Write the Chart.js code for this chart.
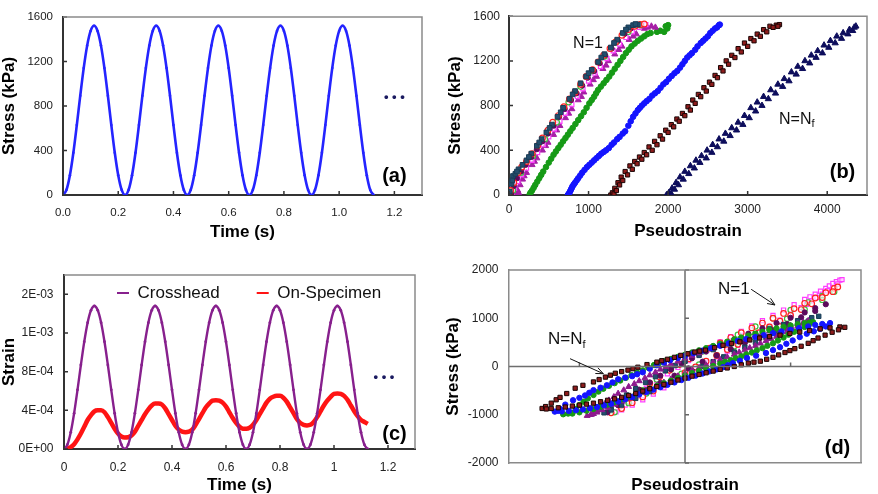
<!DOCTYPE html>
<html>
<head>
<meta charset="utf-8">
<script src="https://cdn.jsdelivr.net/npm/chart.js@4.4.0/dist/chart.umd.min.js"></script>
<style>
  html, body { margin: 0; padding: 0; background: #fff; }
  #wrap { position: relative; width: 878px; height: 494px; overflow: hidden; }
  .panel { position: absolute; }
  canvas { display: block; }
</style>
</head>
<body>
<div id="wrap">
  <div class="panel" style="left:0;top:0"><canvas id="ca" width="440" height="247"></canvas></div>
  <div class="panel" style="left:440px;top:0"><canvas id="cb" width="438" height="247"></canvas></div>
  <div class="panel" style="left:0;top:247px"><canvas id="cc" width="440" height="247"></canvas></div>
  <div class="panel" style="left:440px;top:247px"><canvas id="cd" width="438" height="247"></canvas></div>
</div>
<script>
// ---- (a) / (c): time histories, one sample every 12.5 ms ----
const timeS = [0, 0.0125, 0.025, 0.0375, 0.05, 0.0625, 0.075, 0.0875, 0.1, 0.1125, 0.125, 0.1375, 0.15, 0.1625, 0.175, 0.1875, 0.2, 0.2125, 0.225,
  0.2375, 0.25, 0.2625, 0.275, 0.2875, 0.3, 0.3125, 0.325, 0.3375, 0.35, 0.3625, 0.375, 0.3875, 0.4, 0.4125, 0.425, 0.4375, 0.45,
  0.4625, 0.475, 0.4875, 0.5, 0.5125, 0.525, 0.5375, 0.55, 0.5625, 0.575, 0.5875, 0.6, 0.6125, 0.625, 0.6375, 0.65, 0.6625, 0.675,
  0.6875, 0.7, 0.7125, 0.725, 0.7375, 0.75, 0.7625, 0.775, 0.7875, 0.8, 0.8125, 0.825, 0.8375, 0.85, 0.8625, 0.875, 0.8875, 0.9,
  0.9125, 0.925, 0.9375, 0.95, 0.9625, 0.975, 0.9875, 1, 1.0125, 1.025, 1.0375, 1.05, 1.0625, 1.075, 1.0875, 1.1, 1.1125, 1.125];

const aStress = [0, 46, 178, 380, 628, 892, 1140, 1342, 1474, 1520, 1474, 1342, 1140, 892, 628, 380, 178, 46, 0,
  46, 178, 380, 628, 892, 1140, 1342, 1474, 1520, 1474, 1342, 1140, 892, 628, 380, 178, 46, 0,
  46, 178, 380, 628, 892, 1140, 1342, 1474, 1520, 1474, 1342, 1140, 892, 628, 380, 178, 46, 0,
  46, 178, 380, 628, 892, 1140, 1342, 1474, 1520, 1474, 1342, 1140, 892, 628, 380, 178, 46, 0,
  46, 178, 380, 628, 892, 1140, 1342, 1474, 1520, 1474, 1342, 1140, 892, 628, 380, 178, 46, 0];

const cCrosshead = [0, 0.000045, 0.000173, 0.00037, 0.000612, 0.000869, 0.00111, 0.001307, 0.001435, 0.00148, 0.001435, 0.001307, 0.00111, 0.000869, 0.000612, 0.00037, 0.000173, 0.000045, 0,
  0.000045, 0.000173, 0.00037, 0.000612, 0.000869, 0.00111, 0.001307, 0.001435, 0.00148, 0.001435, 0.001307, 0.00111, 0.000869, 0.000612, 0.00037, 0.000173, 0.000045, 0,
  0.000045, 0.000173, 0.00037, 0.000612, 0.000869, 0.00111, 0.001307, 0.001435, 0.00148, 0.001435, 0.001307, 0.00111, 0.000869, 0.000612, 0.00037, 0.000173, 0.000045, 0,
  0.000045, 0.000173, 0.00037, 0.000612, 0.000869, 0.00111, 0.001307, 0.001435, 0.00148, 0.001435, 0.001307, 0.00111, 0.000869, 0.000612, 0.00037, 0.000173, 0.000045, 0,
  0.000045, 0.000173, 0.00037, 0.000612, 0.000869, 0.00111, 0.001307, 0.001435, 0.00148, 0.001435, 0.001307, 0.00111, 0.000869, 0.000612, 0.00037, 0.000173, 0.000045, 0];

const cOnSpecimen = [0, 0.000005, 0.00002, 0.00005, 0.0001, 0.00016, 0.00023, 0.0003, 0.00035, 0.00039, 0.0004, 0.0004, 0.00038, 0.00033, 0.00027, 0.00021, 0.00016, 0.00013, 0.00012,
  0.000122, 0.00014, 0.00018, 0.00024, 0.0003, 0.00036, 0.00041, 0.00045, 0.00047, 0.00047, 0.00046, 0.00042, 0.00036, 0.0003, 0.00024, 0.0002, 0.00018, 0.000174,
  0.00018, 0.0002, 0.00025, 0.00031, 0.00037, 0.00043, 0.00047, 0.0005, 0.000505, 0.0005, 0.00048, 0.00044, 0.00038, 0.00032, 0.00027, 0.00023, 0.00021, 0.000209,
  0.00022, 0.00025, 0.0003, 0.00036, 0.00042, 0.00048, 0.00052, 0.00054, 0.00055, 0.00055, 0.00053, 0.00049, 0.00043, 0.00037, 0.00031, 0.00027, 0.00025, 0.000244,
  0.00025, 0.00028, 0.00033, 0.00039, 0.00045, 0.0005, 0.00054, 0.00057, 0.000574, 0.00057, 0.00055, 0.00051, 0.00045, 0.00039, 0.00034, 0.0003, 0.00028, 0.00026];

// tick values / labels
const aTimeTicks = [0, 0.2, 0.4, 0.6, 0.8, 1.0, 1.2];
const aTimeLabels = ['0.0', '0.2', '0.4', '0.6', '0.8', '1.0', '1.2'];
const cTimeLabels = ['0', '0.2', '0.4', '0.6', '0.8', '1', '1.2'];
const stressTicks = [0, 400, 800, 1200, 1600];
const bStrainTicks = [0, 1000, 2000, 3000, 4000];
const cStrainTicks = [0, 0.0004, 0.0008, 0.0012, 0.0016];
const cStrainLabels = ['0E+00', '4E-04', '8E-04', '1E-03', '2E-03'];
const dStressTicks = [-2000, -1000, 0, 1000, 2000];
const dStrainTicks = [-1500, 0, 1500];

// ---- (b): loading branches, [pseudostrain, stress kPa] ----
const bSlate = [[10,30],[30,100],[50,170],[80,190],[120,230],[170,270],[220,310],[280,370],[350,440],[410,500],[470,560],[540,630],[610,700],[680,780],[760,860],[830,930],[900,1000],[970,1060],[1040,1120],[1120,1190],[1200,1260],[1280,1320],[1360,1390],[1430,1450],[1500,1500],[1560,1520],[1620,1525],
  [40,130],[100,210],[250,340],[380,470],[510,600],[650,740],[800,900],[1000,1090],[1160,1230],[1320,1360],[1470,1480],[1590,1530]];
const bRedOpen = [[0,0],[20,40],[60,110],[110,200],[160,250],[220,300],[290,370],[360,440],[420,510],[490,580],[550,650],[620,710],[690,790],[760,860],[830,920],[900,990],[970,1060],[1050,1120],[1120,1190],[1190,1250],[1270,1310],[1340,1370],[1420,1430],[1500,1480],[1580,1510],[1650,1525],[1700,1530]];
const bDarkPurple = [[30,10],[60,80],[100,150],[150,210],[210,270],[280,340],[350,410],[420,480],[490,550],[560,620],[630,700],[700,770],[780,850],[850,910],[920,980],[990,1050],[1070,1110],[1140,1180],[1210,1250],[1290,1310],[1370,1380],[1450,1440],[1530,1490],[1600,1520]];
const bLimeOpen = [[50,40],[150,200],[300,350],[450,500],[600,650],[750,830],[900,970],[1050,1110],[1200,1240],[1350,1370],[1500,1460],[1650,1520]];
const bMagentaOpen = [[40,0],[70,60],[110,120],[160,180],[220,240],[290,310],[360,380],[430,450],[500,520],[570,590],[640,660],[710,730],[790,810],[860,880],[930,950],[1000,1020],[1080,1090],[1150,1150],[1230,1220],[1310,1290],[1390,1350],[1470,1410],[1550,1460],[1640,1500],[1720,1525]];
const bPurpleTri = [[90,0],[110,40],[140,90],[170,140],[220,200],[290,270],[350,330],[420,400],[490,470],[560,540],[640,620],[710,690],[790,770],[870,850],[940,920],[1020,990],[1100,1060],[1180,1130],[1250,1200],[1330,1260],[1420,1330],[1510,1390],[1600,1440],[1700,1490],[1790,1510],[1840,1500],
  [120,20],[190,170],[320,300],[460,440],[600,580],[750,730],[910,880],[1060,1030],[1220,1160],[1380,1300],[1560,1420],[1740,1500]];
const bGreen = [[260,5],[290,40],[330,90],[380,150],[430,210],[500,290],[560,360],[620,420],[680,480],[740,540],[800,600],[870,670],[940,740],[1010,820],[1070,880],[1120,940],[1190,1000],[1260,1060],[1330,1130],[1400,1200],[1470,1270],[1540,1330],[1620,1380],[1700,1420],[1780,1450],[1860,1460],[1950,1460],[1990,1490],[2000,1520],
  [270,20],[310,65],[355,120],[405,180],[465,250],[530,325],[590,390],[650,450],[710,510],[770,570],[835,635],[905,705],[975,780],[1040,850],[1095,910],[1155,970],[1225,1030],[1295,1095],[1365,1165],[1435,1235],[1505,1300],[1580,1355],[1660,1400],[1740,1440],[1900,1470],[1970,1510]];
const bBlue = [[740,0],[760,20],[780,50],[800,80],[830,110],[870,150],[920,200],[980,250],[1040,290],[1100,330],[1160,370],[1220,400],[1290,450],[1360,500],[1430,550],[1500,620],[1560,700],[1620,760],[1670,800],[1730,840],[1800,890],[1870,930],[1940,990],[2010,1040],[2080,1090],[2150,1140],[2210,1200],[2270,1250],[2340,1300],[2410,1360],[2470,1400],[2530,1450],[2590,1490],[2640,1520],
  [750,10],[770,35],[790,65],[815,95],[850,130],[895,175],[950,225],[1010,270],[1070,310],[1130,350],[1190,385],[1255,420],[1320,470],[1390,520],[1460,570],[1530,660],[1590,730],[1645,780],[1700,820],[1765,860],[1835,910],[1905,960],[1975,1010],[2045,1065],[2115,1110],[2180,1170],[2240,1230],[2300,1270],[2370,1330],[2440,1380],[2500,1420],[2560,1470],[2615,1500],[2650,1525]];
const bDarkRed = [[1280,0],[1300,20],[1330,60],[1370,110],[1410,160],[1460,210],[1520,260],[1580,300],[1640,340],[1700,380],[1760,430],[1830,480],[1900,530],[1970,580],[2040,630],[2110,680],[2180,730],[2250,790],[2310,850],[2380,900],[2450,960],[2520,1010],[2590,1070],[2660,1140],[2730,1200],[2800,1250],[2880,1310],[2960,1360],[3040,1400],[3120,1440],[3200,1480],[3280,1510],[3360,1520],[3400,1525],
  [1320,10],[1350,40],[1390,90],[1430,130],[1490,180],[1550,230],[1610,280],[1670,320],[1730,360],[1800,400],[1860,450],[1930,500],[2000,560],[2070,610],[2140,660],[2210,710],[2280,760],[2340,820],[2410,880],[2480,930],[2550,990],[2620,1050],[2690,1110],[2760,1170],[2840,1230],[2920,1280],[3000,1330],[3080,1380],[3160,1420],[3240,1460],[3320,1500],[3380,1510]];
const bNavyTri = [[1980,0],[2010,20],[2050,60],[2100,110],[2150,160],[2210,210],[2280,260],[2350,310],[2420,350],[2490,400],[2560,450],[2640,500],[2720,550],[2800,600],[2880,650],[2960,710],[3040,780],[3120,830],[3200,880],[3290,940],[3380,990],[3460,1040],[3550,1100],[3630,1150],[3720,1200],[3800,1250],[3880,1290],[3960,1340],[4040,1380],[4120,1420],[4200,1450],[4280,1480],[4340,1500],[4360,1510],
  [2040,10],[2080,50],[2130,90],[2190,140],[2260,190],[2330,240],[2400,290],[2480,330],[2550,380],[2620,430],[2700,480],[2780,530],[2860,580],[2940,630],[3020,690],[3100,750],[3180,800],[3260,860],[3350,910],[3440,970],[3520,1020],[3610,1080],[3690,1130],[3780,1180],[3860,1230],[3940,1270],[4020,1320],[4100,1360],[4180,1400],[4260,1440],[4320,1470]];

// ---- (d): hysteresis loops, [pseudostrain, stress kPa] ----
const dNf = [[-2030,-870],[-1980,-830],[-1900,-760],[-1830,-690],[-1775,-640],[-1680,-560],[-1560,-450],[-1450,-390],[-1300,-320],[-1220,-270],[-1130,-220],[-1060,-180],[-990,-140],[-900,-105],[-810,-75],[-740,-45],[-670,-15],[-540,40],[-400,90],[-330,120],[-250,150],[-150,190],[-60,230],[40,265],[140,300],[210,320],[290,340],[420,390],[540,440],[660,475],[780,510],[920,550],[1060,590],[1200,620],[1350,650],[1490,685],[1630,715],[1770,745],[1920,780],[2060,800],[2200,820],[2270,812],
  [2180,760],[2090,710],[1990,650],[1890,590],[1820,535],[1750,480],[1650,420],[1560,370],[1490,330],[1420,290],[1330,240],[1250,190],[1160,150],[1070,110],[980,90],[900,70],[800,35],[700,0],[600,-30],[500,-60],[400,-95],[300,-130],[200,-165],[100,-200],[0,-240],[-100,-280],[-200,-325],[-300,-370],[-400,-415],[-500,-460],[-600,-510],[-700,-560],[-800,-600],[-900,-640],[-1000,-670],[-1100,-700],[-1200,-730],[-1300,-760],[-1400,-780],[-1500,-800],[-1600,-820],[-1700,-840],[-1800,-855],[-1900,-870],[-1970,-880]];
const dBlue = [[-1850,-935],[-1800,-920],[-1775,-880],[-1700,-790],[-1590,-700],[-1500,-650],[-1420,-600],[-1360,-545],[-1300,-490],[-1200,-440],[-1110,-390],[-1030,-330],[-950,-265],[-850,-230],[-750,-200],[-680,-160],[-600,-120],[-500,-45],[-400,27],[-300,80],[-213,130],[-100,180],[0,220],[120,275],[250,330],[370,380],[500,430],[620,480],[750,530],[870,570],[1000,610],[1120,650],[1250,690],[1370,725],[1500,760],[1620,795],[1750,830],[1850,860],[1950,880],[2060,900],
  [2000,830],[1920,780],[1830,730],[1730,680],[1630,610],[1530,540],[1440,470],[1350,400],[1250,340],[1150,280],[1010,225],[880,175],[780,120],[680,70],[610,25],[540,-15],[450,-60],[350,-100],[250,-145],[150,-190],[50,-235],[-50,-280],[-150,-330],[-250,-380],[-350,-430],[-450,-480],[-550,-530],[-650,-580],[-750,-630],[-850,-680],[-950,-725],[-1050,-770],[-1150,-805],[-1250,-840],[-1350,-865],[-1450,-890],[-1550,-905],[-1650,-920],[-1750,-930]];
const dGreen = [[-1730,-990],[-1660,-975],[-1600,-960],[-1550,-880],[-1500,-800],[-1440,-730],[-1380,-660],[-1300,-590],[-1230,-520],[-1160,-460],[-1080,-400],[-1000,-345],[-920,-290],[-840,-235],[-760,-180],[-680,-130],[-600,-80],[-520,-25],[-440,30],[-370,70],[-300,110],[-200,155],[-100,200],[0,245],[100,290],[200,335],[300,380],[400,425],[500,470],[600,515],[700,560],[800,600],[900,640],[1000,680],[1100,720],[1200,755],[1300,790],[1400,820],[1500,850],[1600,875],[1700,900],[1770,912],[1820,917],
  [1760,870],[1700,820],[1620,770],[1550,720],[1470,660],[1400,600],[1320,540],[1250,480],[1170,430],[1100,380],[1020,335],[950,290],[870,250],[800,210],[720,170],[650,130],[570,95],[500,60],[400,10],[300,-40],[200,-90],[100,-140],[0,-190],[-100,-240],[-200,-295],[-300,-350],[-400,-405],[-500,-460],[-600,-515],[-700,-570],[-800,-625],[-900,-680],[-1000,-735],[-1100,-790],[-1200,-835],[-1300,-880],[-1400,-915],[-1500,-950],[-1600,-975]];
const dPurpleTri = [[-1390,-1020],[-1340,-1000],[-1300,-980],[-1250,-915],[-1200,-850],[-1140,-775],[-1080,-700],[-1010,-630],[-950,-560],[-870,-490],[-800,-420],[-720,-360],[-650,-300],[-570,-240],[-500,-180],[-420,-120],[-350,-60],[-270,-5],[-200,50],[-100,110],[0,170],[100,225],[200,280],[300,330],[400,380],[500,430],[600,480],[700,525],[800,570],[900,610],[1000,650],[1100,690],[1200,730],[1300,770],[1400,810],[1500,845],[1600,880],[1680,915],[1750,950],
  [1680,890],[1600,830],[1520,775],[1450,720],[1370,670],[1300,620],[1220,575],[1150,530],[1070,480],[1000,430],[920,385],[850,340],[770,295],[700,250],[600,195],[500,140],[400,85],[300,30],[200,-25],[100,-80],[0,-140],[-100,-200],[-200,-265],[-300,-330],[-400,-395],[-500,-460],[-600,-525],[-700,-590],[-800,-655],[-900,-720],[-1000,-785],[-1100,-850],[-1180,-900],[-1250,-950],[-1320,-990]];
const dSlate = [[-1150,-960],[-1050,-850],[-950,-720],[-830,-590],[-700,-460],[-560,-330],[-420,-210],[-280,-90],[-140,20],[0,110],[200,230],[400,350],[600,470],[800,580],[1000,680],[1200,780],[1400,870],[1600,950],[1800,1010],[1900,1040],
  [1750,940],[1600,860],[1450,780],[1300,690],[1150,600],[1000,500],[850,400],[700,300],[550,200],[400,100],[250,0],[100,-100],[-100,-240],[-300,-380],[-500,-520],[-700,-660],[-900,-800],[-1050,-900]];
const dDarkPurple = [[-1100,-950],[-950,-800],[-800,-640],[-650,-480],[-500,-330],[-350,-190],[-200,-60],[-50,60],[100,170],[300,310],[500,440],[700,560],[900,680],[1100,790],[1300,900],[1500,1010],[1700,1120],[1850,1210],[2000,1290],
  [1850,1150],[1650,1020],[1450,880],[1250,750],[1050,620],[850,490],[650,360],[450,230],[250,100],[50,-40],[-150,-190],[-350,-340],[-550,-490],[-750,-640],[-950,-800]];
const dRedOpen = [[-1050,-960],[-920,-820],[-780,-660],[-640,-500],[-500,-350],[-360,-210],[-220,-80],[-80,40],[60,160],[200,270],[350,380],[500,490],[650,600],[800,700],[950,800],[1100,900],[1250,1000],[1400,1100],[1550,1200],[1700,1310],[1850,1420],[2000,1530],[2120,1620],[2170,1650],
  [2100,1550],[1950,1430],[1800,1300],[1650,1180],[1500,1060],[1350,940],[1200,820],[1050,700],[900,580],[750,460],[600,350],[450,230],[300,110],[150,-10],[0,-130],[-150,-250],[-300,-380],[-450,-510],[-600,-630],[-750,-750],[-900,-870]];
const dLimeOpen = [[-1000,-950],[-800,-730],[-600,-490],[-400,-270],[-200,-60],[0,120],[250,310],[500,490],[750,660],[1000,830],[1250,1000],[1500,1170],[1750,1330],[1950,1460],[2120,1550],
  [1950,1380],[1700,1180],[1450,990],[1200,800],[950,610],[700,420],[450,230],[200,40],[-50,-150],[-300,-350],[-550,-560],[-800,-760]];
const dMagentaOpen = [[-980,-940],[-850,-800],[-700,-620],[-550,-450],[-400,-300],[-250,-150],[-100,-20],[50,120],[200,250],[350,380],[500,510],[650,620],[800,730],[950,840],[1100,950],[1250,1060],[1400,1170],[1550,1280],[1700,1390],[1775,1445],[1850,1500],[1925,1560],[2000,1620],[2050,1670],[2100,1720],[2150,1760],[2200,1790],[2230,1800],
  [2170,1710],[2100,1640],[2025,1570],[1950,1500],[1875,1430],[1800,1360],[1725,1290],[1650,1220],[1500,1090],[1350,960],[1200,830],[1050,700],[900,570],[750,440],[600,320],[450,200],[300,80],[150,-50],[0,-180],[-150,-310],[-300,-440],[-450,-570],[-600,-690],[-750,-800],[-900,-900]];

Chart.defaults.font.family = "'Liberation Sans', Arial, 'DejaVu Sans', sans-serif";
Chart.defaults.color = '#1a1a1a';
Chart.defaults.animation = false;

const titleFont = { size: 17, weight: 'bold', lineHeight: 1 };
const noteBold = 'bold 20px "Liberation Sans", Arial, sans-serif';
const noteText = (s) => s + 'px "Liberation Sans", Arial, sans-serif';

const pts = arr => arr.map(p => ({ x: p[0], y: p[1] }));
const series = (xs, ys) => xs.map((x, i) => ({ x, y: ys[i] }));
const fixedTicks = vals => scale => { scale.ticks = vals.map(v => ({ value: v })); };

// Excel-style frame: inward tick marks, light top/right edges, notes and arrows
const panelDeco = {
  id: 'panelDeco',
  afterLayout(chart, args, o) {
    const L = chart.legend;
    if (o.legendAt && L) {
      const h = L.height, w = L.width;
      L.left = o.legendAt.left; L.right = L.left + w;
      L.top = o.legendAt.top; L.bottom = L.top + h;
    }
  },
  afterDraw(chart, args, o) {
    const { ctx, chartArea: a } = chart;
    const sx = chart.scales.x, sy = chart.scales.y;
    ctx.save();
    let baseX = a.left, baseY = a.bottom;
    if (o.cross) {
      baseX = sx.getPixelForValue(0);
      baseY = sy.getPixelForValue(0);
      ctx.strokeStyle = o.cross; ctx.lineWidth = 1.5;
      ctx.beginPath();
      ctx.moveTo(baseX, a.top); ctx.lineTo(baseX, a.bottom);
      ctx.moveTo(a.left, baseY); ctx.lineTo(a.right, baseY);
      ctx.stroke();
    }
    ctx.strokeStyle = o.tickColor; ctx.lineWidth = 1.5;
    ctx.beginPath();
    sx.ticks.forEach(t => { const p = sx.getPixelForValue(t.value); ctx.moveTo(p, baseY); ctx.lineTo(p, baseY - 4); });
    sy.ticks.forEach(t => { const p = sy.getPixelForValue(t.value); ctx.moveTo(baseX, p); ctx.lineTo(baseX + 4, p); });
    ctx.stroke();

    ctx.strokeStyle = o.frame; ctx.lineWidth = 1.5;
    ctx.beginPath();
    ctx.moveTo(a.left, a.top); ctx.lineTo(a.right, a.top); ctx.lineTo(a.right, a.bottom);
    ctx.stroke();

    (o.arrows || []).forEach(ar => {
      const x1 = sx.getPixelForValue(ar.from[0]), y1 = sy.getPixelForValue(ar.from[1]);
      const x2 = sx.getPixelForValue(ar.to[0]), y2 = sy.getPixelForValue(ar.to[1]);
      const ang = Math.atan2(y2 - y1, x2 - x1);
      ctx.strokeStyle = '#111'; ctx.lineWidth = 1;
      ctx.beginPath();
      ctx.moveTo(x1, y1); ctx.lineTo(x2, y2);
      ctx.moveTo(x2 - 8 * Math.cos(ang - 0.4), y2 - 8 * Math.sin(ang - 0.4));
      ctx.lineTo(x2, y2);
      ctx.lineTo(x2 - 8 * Math.cos(ang + 0.4), y2 - 8 * Math.sin(ang + 0.4));
      ctx.stroke();
    });

    (o.notes || []).forEach(n => {
      const px = sx.getPixelForValue(n.x), py = sy.getPixelForValue(n.y);
      ctx.font = n.font; ctx.fillStyle = n.color || '#111';
      ctx.textAlign = n.align || 'center'; ctx.textBaseline = 'middle';
      ctx.fillText(n.text, px, py);
      if (n.sub) {
        const w = ctx.measureText(n.text).width;
        ctx.font = n.subFont; ctx.textAlign = 'left';
        ctx.fillText(n.sub, px + w, py + 5);
      }
    });
    ctx.restore();
  }
};

function axis(opts) {
  return {
    type: 'linear',
    min: opts.min, max: opts.max,
    afterBuildTicks: fixedTicks(opts.ticks),
    ticks: {
      display: opts.labels !== null,
      callback: (v, i) => opts.labels ? opts.labels[i] : String(v),
      padding: opts.pad, font: { size: opts.font || 12 }, color: '#222'
    },
    grid: { display: false, drawTicks: false },
    border: { color: opts.border || '#333', width: opts.borderWidth || 2 },
    title: { display: true, text: opts.title, color: '#000', font: titleFont, padding: opts.titlePad },
    afterFit: opts.fit
  };
}

const baseOpts = (padding) => ({
  responsive: false,
  devicePixelRatio: 1,
  layout: { padding },
  plugins: { legend: { display: false }, tooltip: { enabled: false } }
});

// (a) stress history
new Chart(document.getElementById('ca'), {
  type: 'line',
  data: { datasets: [{
    label: 'Stress', data: series(timeS, aStress),
    borderColor: '#2424ff', backgroundColor: '#2424ff', borderWidth: 2.6,
    pointRadius: 1.3, pointBorderWidth: 0, cubicInterpolationMode: 'monotone'
  }] },
  options: Object.assign(baseOpts({ left: 0, top: 14, right: 18, bottom: 0 }), {
    scales: {
      x: axis({ min: 0, max: 1.3, ticks: aTimeTicks, labels: aTimeLabels, pad: 11, font: 11.5,
        title: 'Time (s)', titlePad: { top: 0, bottom: 6.5 }, fit: s => { s.height = 52; } }),
      y: axis({ min: 0, max: 1600, ticks: stressTicks, pad: 10, font: 11.5,
        title: 'Stress (kPa)', titlePad: { top: 0.5, bottom: 0 }, fit: s => { s.width = 63; } })
    },
    plugins: {
      legend: { display: false }, tooltip: { enabled: false },
      panelDeco: { frame: '#8a8a8a', tickColor: '#333', notes: [
        { x: 1.2, y: 168, text: '(a)', font: noteBold, color: '#000' },
        { x: 1.2, y: 880, text: '• • •', font: 'bold 13px "Liberation Sans", Arial, sans-serif', color: '#1a1a60' }
      ] }
    }
  }),
  plugins: [panelDeco]
});

// (b) stress vs pseudostrain, loading branches
const mk = (label, data, style, bg, border, r, bw) => ({
  label, data: pts(data), showLine: false, pointStyle: style, pointRadius: r,
  backgroundColor: bg, borderColor: border, pointBorderWidth: bw
});
new Chart(document.getElementById('cb'), {
  type: 'scatter',
  data: { datasets: [
    mk('slate', bSlate, 'rect', '#234e6e', '#1a3c55', 3.3, 1),
    mk('red', bRedOpen, 'circle', 'rgba(255,255,255,0.6)', '#ff2020', 2.9, 1.2),
    mk('darkpurple', bDarkPurple, 'circle', '#5c0a5c', '#5c0a5c', 2.6, 1),
    mk('lime', bLimeOpen, 'circle', 'rgba(255,255,255,0.6)', '#3cc23c', 2.7, 1.2),
    mk('magenta', bMagentaOpen, 'rect', 'rgba(255,255,255,0.6)', '#ff3cff', 2.9, 1.2),
    mk('purple', bPurpleTri, 'triangle', '#a61ea6', '#a61ea6', 3.5, 1),
    mk('green', bGreen, 'circle', '#169a16', '#169a16', 2.8, 1),
    mk('blue', bBlue, 'circle', '#1414ff', '#1414ff', 2.8, 1),
    mk('darkred', bDarkRed, 'rect', '#8e1c1c', '#1a0505', 3, 1),
    mk('navy', bNavyTri, 'triangle', '#0d0d5c', '#0d0d5c', 3.6, 1)
  ] },
  options: Object.assign(baseOpts({ left: 0, top: 15, right: 11, bottom: 0 }), {
    scales: {
      x: axis({ min: 0, max: 4500, ticks: bStrainTicks, pad: 7, font: 12,
        title: 'Pseudostrain', titlePad: { top: 0, bottom: 7.5 }, fit: s => { s.height = 52; } }),
      y: axis({ min: 0, max: 1600, ticks: stressTicks, pad: 9, font: 12,
        title: 'Stress (kPa)', titlePad: { top: 6.5, bottom: 0 }, fit: s => { s.width = 69; } })
    },
    plugins: {
      legend: { display: false }, tooltip: { enabled: false },
      panelDeco: { frame: '#8a8a8a', tickColor: '#333', notes: [
        { x: 993, y: 1356, text: 'N=1', font: noteText(16), color: '#111' },
        { x: 3394, y: 676, text: 'N=N', sub: 'f', font: noteText(16), subFont: noteText(11), align: 'left', color: '#111' },
        { x: 4192, y: 204, text: '(b)', font: noteBold, color: '#000' }
      ] }
    }
  }),
  plugins: [panelDeco]
});

// (c) strain histories
new Chart(document.getElementById('cc'), {
  type: 'line',
  data: { datasets: [
    { label: 'Crosshead', data: series(timeS, cCrosshead),
      borderColor: '#87208d', backgroundColor: '#87208d', borderWidth: 2.4,
      pointRadius: 1.4, pointBorderWidth: 0, cubicInterpolationMode: 'monotone' },
    { label: 'On-Specimen', data: series(timeS, cOnSpecimen),
      borderColor: '#ff1414', backgroundColor: '#ff1414', borderWidth: 4.5,
      pointRadius: 0, cubicInterpolationMode: 'monotone' }
  ] },
  options: Object.assign(baseOpts({ left: 0, top: -36, right: 25, bottom: 0 }), {
    scales: {
      x: axis({ min: 0, max: 1.3, ticks: aTimeTicks, labels: cTimeLabels, pad: 11, font: 12,
        title: 'Time (s)', titlePad: { top: 0, bottom: 0 }, fit: s => { s.height = 45; } }),
      y: axis({ min: 0, max: 0.0018, ticks: cStrainTicks, labels: cStrainLabels, pad: 10.5, font: 12,
        title: 'Strain', titlePad: { top: 0.5, bottom: 0 }, fit: s => { s.width = 64; } })
    },
    plugins: {
      tooltip: { enabled: false },
      legend: {
        display: true, position: 'top', align: 'start',
        labels: {
          font: { size: 17 }, color: '#111', boxWidth: 12, boxHeight: 2, padding: 37,
          generateLabels: ch => ch.data.datasets.map((d, i) => ({
            text: d.label, fillStyle: d.borderColor, strokeStyle: d.borderColor,
            lineWidth: 0, hidden: false, datasetIndex: i, fontColor: '#111'
          }))
        }
      },
      panelDeco: { frame: '#8a8a8a', tickColor: '#333', legendAt: { left: 80, top: 0.5 }, notes: [
        { x: 1.224, y: 0.000145, text: '(c)', font: noteBold, color: '#000' },
        { x: 1.185, y: 0.000745, text: '• • •', font: 'bold 13px "Liberation Sans", Arial, sans-serif', color: '#1a1a60' }
      ] }
    }
  }),
  plugins: [panelDeco]
});

// (d) hysteresis loops
new Chart(document.getElementById('cd'), {
  type: 'scatter',
  data: { datasets: [
    mk('darkred', dNf, 'rect', '#8e1c1c', '#1a0505', 3, 1),
    mk('blue', dBlue, 'circle', '#1414ff', '#1414ff', 2.7, 1),
    mk('green', dGreen, 'circle', '#169a16', '#169a16', 2.7, 1),
    mk('purple', dPurpleTri, 'triangle', '#8e1a8e', '#8e1a8e', 3.4, 1),
    mk('slate', dSlate, 'rect', '#234e6e', '#1a3c55', 3.1, 1),
    mk('darkpurple', dDarkPurple, 'circle', '#5c0a5c', '#5c0a5c', 2.6, 1),
    mk('red', dRedOpen, 'circle', 'rgba(255,255,255,0.6)', '#ff2020', 2.8, 1.2),
    mk('lime', dLimeOpen, 'circle', 'rgba(255,255,255,0.6)', '#3cc23c', 2.6, 1.2),
    mk('magenta', dMagentaOpen, 'rect', 'rgba(255,255,255,0.6)', '#ff3cff', 2.9, 1.2)
  ] },
  options: Object.assign(baseOpts({ left: 0, top: 23, right: 17, bottom: 0 }), {
    scales: {
      x: axis({ min: -2500, max: 2500, ticks: dStrainTicks, labels: null, pad: 0, border: '#8a8a8a', borderWidth: 1.5,
        title: 'Pseudostrain', titlePad: { top: 0, bottom: 0 }, fit: s => { s.height = 31; } }),
      y: axis({ min: -2000, max: 2000, ticks: dStressTicks, pad: 10.5, font: 12, border: '#8a8a8a', borderWidth: 1.5,
        title: 'Stress (kPa)', titlePad: { top: 4.8, bottom: 0 }, fit: s => { s.width = 69; } })
    },
    plugins: {
      legend: { display: false }, tooltip: { enabled: false },
      panelDeco: { frame: '#8a8a8a', tickColor: '#666', cross: '#6e6e6e',
        arrows: [
          { from: [940, 1600], to: [1278, 1275] },
          { from: [-1633, 162], to: [-1160, -149] }
        ],
        notes: [
          { x: 469, y: 1606, text: 'N=1', font: noteText(17), align: 'left', color: '#111' },
          { x: -1946, y: 555, text: 'N=N', sub: 'f', font: noteText(17), subFont: noteText(11), align: 'left', color: '#111' },
          { x: 2166, y: -1704, text: '(d)', font: noteBold, color: '#000' }
        ] }
    }
  }),
  plugins: [panelDeco]
});
</script>
</body>
</html>
